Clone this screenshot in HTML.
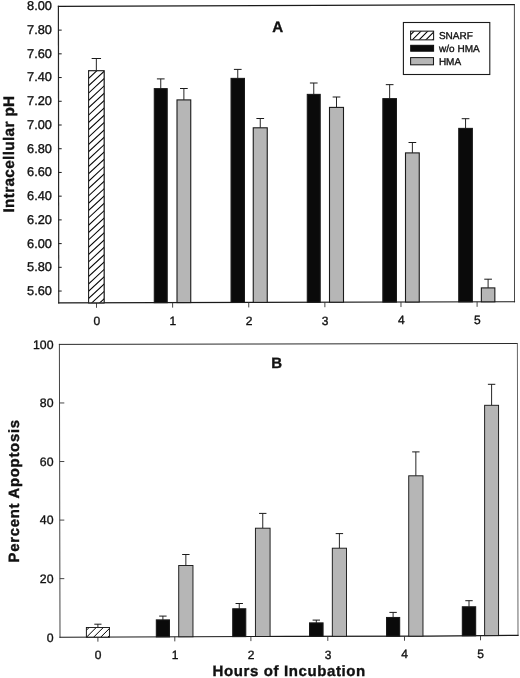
<!DOCTYPE html><html><head><meta charset="utf-8"><title>Figure</title><style>html,body{margin:0;padding:0;background:#fff}svg{display:block}text{font-family:"Liberation Sans", Arial, sans-serif;fill:#111;stroke:#111;stroke-width:0.35px;text-rendering:geometricPrecision}</style></head><body>
<svg width="520" height="678" viewBox="0 0 520 678">
<rect width="520" height="678" fill="#fff"/>
<line x1="58.4" y1="6.4" x2="58.75" y2="302.9" stroke="#262626" stroke-width="1.2" stroke-linecap="square"/>
<line x1="58.4" y1="6.4" x2="514.4" y2="4.6" stroke="#1a1a1a" stroke-width="1.1" stroke-linecap="square"/>
<line x1="514.4" y1="4.6" x2="514.5" y2="301.75" stroke="#333" stroke-width="0.9" stroke-linecap="square"/>
<line x1="58.75" y1="302.9" x2="514.5" y2="301.75" stroke="#1a1a1a" stroke-width="1.15" stroke-linecap="square"/>
<text x="52.0" y="10.30" font-size="12.8" text-anchor="end" stroke-width="0.3">8.00</text>
<line x1="58.4" y1="30.12" x2="61.699999999999996" y2="30.12" stroke="#1a1a1a" stroke-width="1"/>
<text x="52.0" y="34.02" font-size="12.8" text-anchor="end" stroke-width="0.3">7.80</text>
<line x1="58.4" y1="53.84" x2="61.699999999999996" y2="53.84" stroke="#1a1a1a" stroke-width="1"/>
<text x="52.0" y="57.74" font-size="12.8" text-anchor="end" stroke-width="0.3">7.60</text>
<line x1="58.4" y1="77.56" x2="61.699999999999996" y2="77.56" stroke="#1a1a1a" stroke-width="1"/>
<text x="52.0" y="81.46" font-size="12.8" text-anchor="end" stroke-width="0.3">7.40</text>
<line x1="58.4" y1="101.28" x2="61.699999999999996" y2="101.28" stroke="#1a1a1a" stroke-width="1"/>
<text x="52.0" y="105.18" font-size="12.8" text-anchor="end" stroke-width="0.3">7.20</text>
<line x1="58.4" y1="125.00" x2="61.699999999999996" y2="125.00" stroke="#1a1a1a" stroke-width="1"/>
<text x="52.0" y="128.90" font-size="12.8" text-anchor="end" stroke-width="0.3">7.00</text>
<line x1="58.4" y1="148.72" x2="61.699999999999996" y2="148.72" stroke="#1a1a1a" stroke-width="1"/>
<text x="52.0" y="152.62" font-size="12.8" text-anchor="end" stroke-width="0.3">6.80</text>
<line x1="58.4" y1="172.44" x2="61.699999999999996" y2="172.44" stroke="#1a1a1a" stroke-width="1"/>
<text x="52.0" y="176.34" font-size="12.8" text-anchor="end" stroke-width="0.3">6.60</text>
<line x1="58.4" y1="196.16" x2="61.699999999999996" y2="196.16" stroke="#1a1a1a" stroke-width="1"/>
<text x="52.0" y="200.06" font-size="12.8" text-anchor="end" stroke-width="0.3">6.40</text>
<line x1="58.4" y1="219.88" x2="61.699999999999996" y2="219.88" stroke="#1a1a1a" stroke-width="1"/>
<text x="52.0" y="223.78" font-size="12.8" text-anchor="end" stroke-width="0.3">6.20</text>
<line x1="58.4" y1="243.60" x2="61.699999999999996" y2="243.60" stroke="#1a1a1a" stroke-width="1"/>
<text x="52.0" y="247.50" font-size="12.8" text-anchor="end" stroke-width="0.3">6.00</text>
<line x1="58.4" y1="267.32" x2="61.699999999999996" y2="267.32" stroke="#1a1a1a" stroke-width="1"/>
<text x="52.0" y="271.22" font-size="12.8" text-anchor="end" stroke-width="0.3">5.80</text>
<line x1="58.4" y1="291.04" x2="61.699999999999996" y2="291.04" stroke="#1a1a1a" stroke-width="1"/>
<text x="52.0" y="294.94" font-size="12.8" text-anchor="end" stroke-width="0.3">5.60</text>
<line x1="96.5" y1="302.80" x2="96.5" y2="307.80" stroke="#333" stroke-width="0.9"/>
<text x="96.8" y="325.20" font-size="12" text-anchor="middle" stroke-width="0.08">0</text>
<line x1="172.62" y1="302.61" x2="172.62" y2="307.61" stroke="#333" stroke-width="0.9"/>
<text x="172.92000000000002" y="325.01" font-size="12" text-anchor="middle" stroke-width="0.08">1</text>
<line x1="248.74" y1="302.42" x2="248.74" y2="307.42" stroke="#333" stroke-width="0.9"/>
<text x="249.04000000000002" y="324.82" font-size="12" text-anchor="middle" stroke-width="0.08">2</text>
<line x1="324.86" y1="302.23" x2="324.86" y2="307.23" stroke="#333" stroke-width="0.9"/>
<text x="325.16" y="324.63" font-size="12" text-anchor="middle" stroke-width="0.08">3</text>
<line x1="400.98" y1="302.04" x2="400.98" y2="307.04" stroke="#333" stroke-width="0.9"/>
<text x="401.28000000000003" y="324.44" font-size="12" text-anchor="middle" stroke-width="0.08">4</text>
<line x1="477.1" y1="301.84" x2="477.1" y2="306.84" stroke="#333" stroke-width="0.9"/>
<text x="477.40000000000003" y="324.24" font-size="12" text-anchor="middle" stroke-width="0.08">5</text>
<line x1="96.35" y1="58.50" x2="96.35" y2="70.80" stroke="#1a1a1a" stroke-width="0.95"/>
<line x1="91.65" y1="58.50" x2="101.05" y2="58.50" stroke="#1a1a1a" stroke-width="1.0"/>
<rect x="88.65" y="70.80" width="15.40" height="232.00" fill="#fff" stroke="#1a1a1a" stroke-width="1.1"/>
<clipPath id="hc1"><rect x="88.65" y="70.80" width="15.40" height="232.00"/></clipPath>
<rect x="88.65" y="70.80" width="15.40" height="232.00" fill="#fff"/>
<g clip-path="url(#hc1)" stroke="#000" stroke-width="1.05">
<line x1="86.15" y1="43.97" x2="108.15" y2="23.51"/>
<line x1="86.15" y1="51.31" x2="108.15" y2="30.85"/>
<line x1="86.15" y1="58.65" x2="108.15" y2="38.19"/>
<line x1="86.15" y1="65.99" x2="108.15" y2="45.53"/>
<line x1="86.15" y1="73.33" x2="108.15" y2="52.87"/>
<line x1="86.15" y1="80.66" x2="108.15" y2="60.20"/>
<line x1="86.15" y1="88.00" x2="108.15" y2="67.54"/>
<line x1="86.15" y1="95.34" x2="108.15" y2="74.88"/>
<line x1="86.15" y1="102.68" x2="108.15" y2="82.22"/>
<line x1="86.15" y1="110.02" x2="108.15" y2="89.56"/>
<line x1="86.15" y1="117.35" x2="108.15" y2="96.89"/>
<line x1="86.15" y1="124.69" x2="108.15" y2="104.23"/>
<line x1="86.15" y1="132.03" x2="108.15" y2="111.57"/>
<line x1="86.15" y1="139.37" x2="108.15" y2="118.91"/>
<line x1="86.15" y1="146.71" x2="108.15" y2="126.25"/>
<line x1="86.15" y1="154.04" x2="108.15" y2="133.58"/>
<line x1="86.15" y1="161.38" x2="108.15" y2="140.92"/>
<line x1="86.15" y1="168.72" x2="108.15" y2="148.26"/>
<line x1="86.15" y1="176.06" x2="108.15" y2="155.60"/>
<line x1="86.15" y1="183.40" x2="108.15" y2="162.94"/>
<line x1="86.15" y1="190.73" x2="108.15" y2="170.27"/>
<line x1="86.15" y1="198.07" x2="108.15" y2="177.61"/>
<line x1="86.15" y1="205.41" x2="108.15" y2="184.95"/>
<line x1="86.15" y1="212.75" x2="108.15" y2="192.29"/>
<line x1="86.15" y1="220.09" x2="108.15" y2="199.63"/>
<line x1="86.15" y1="227.42" x2="108.15" y2="206.96"/>
<line x1="86.15" y1="234.76" x2="108.15" y2="214.30"/>
<line x1="86.15" y1="242.10" x2="108.15" y2="221.64"/>
<line x1="86.15" y1="249.44" x2="108.15" y2="228.98"/>
<line x1="86.15" y1="256.78" x2="108.15" y2="236.32"/>
<line x1="86.15" y1="264.11" x2="108.15" y2="243.65"/>
<line x1="86.15" y1="271.45" x2="108.15" y2="250.99"/>
<line x1="86.15" y1="278.79" x2="108.15" y2="258.33"/>
<line x1="86.15" y1="286.13" x2="108.15" y2="265.67"/>
<line x1="86.15" y1="293.47" x2="108.15" y2="273.01"/>
<line x1="86.15" y1="300.80" x2="108.15" y2="280.34"/>
<line x1="86.15" y1="308.14" x2="108.15" y2="287.68"/>
<line x1="86.15" y1="315.48" x2="108.15" y2="295.02"/>
</g>
<rect x="88.65" y="70.80" width="15.40" height="232.00" fill="none" stroke="#1a1a1a" stroke-width="0.95"/>
<line x1="160.75" y1="78.90" x2="160.75" y2="88.65" stroke="#1a1a1a" stroke-width="0.95"/>
<line x1="156.90" y1="78.90" x2="164.60" y2="78.90" stroke="#1a1a1a" stroke-width="1.0"/>
<rect x="154.30" y="88.65" width="12.90" height="213.99" fill="#0a0a0a" stroke="#1a1a1a" stroke-width="1.1"/>
<line x1="183.88" y1="88.50" x2="183.88" y2="99.90" stroke="#1a1a1a" stroke-width="0.95"/>
<line x1="180.03" y1="88.50" x2="187.72" y2="88.50" stroke="#1a1a1a" stroke-width="1.0"/>
<rect x="177.00" y="99.90" width="13.75" height="202.68" fill="#b6b6b6" stroke="#1a1a1a" stroke-width="1.1"/>
<line x1="237.75" y1="69.40" x2="237.75" y2="78.40" stroke="#1a1a1a" stroke-width="0.95"/>
<line x1="233.90" y1="69.40" x2="241.60" y2="69.40" stroke="#1a1a1a" stroke-width="1.0"/>
<rect x="231.05" y="78.40" width="13.40" height="224.05" fill="#0a0a0a" stroke="#1a1a1a" stroke-width="1.1"/>
<line x1="260.25" y1="118.50" x2="260.25" y2="127.80" stroke="#1a1a1a" stroke-width="0.95"/>
<line x1="256.40" y1="118.50" x2="264.10" y2="118.50" stroke="#1a1a1a" stroke-width="1.0"/>
<rect x="253.25" y="127.80" width="14.00" height="174.59" fill="#b6b6b6" stroke="#1a1a1a" stroke-width="1.1"/>
<line x1="313.75" y1="83.00" x2="313.75" y2="94.40" stroke="#1a1a1a" stroke-width="0.95"/>
<line x1="309.90" y1="83.00" x2="317.60" y2="83.00" stroke="#1a1a1a" stroke-width="1.0"/>
<rect x="307.30" y="94.40" width="12.90" height="207.86" fill="#0a0a0a" stroke="#1a1a1a" stroke-width="1.1"/>
<line x1="336.50" y1="97.00" x2="336.50" y2="107.40" stroke="#1a1a1a" stroke-width="0.95"/>
<line x1="332.65" y1="97.00" x2="340.35" y2="97.00" stroke="#1a1a1a" stroke-width="1.0"/>
<rect x="329.50" y="107.40" width="14.00" height="194.80" fill="#b6b6b6" stroke="#1a1a1a" stroke-width="1.1"/>
<line x1="389.65" y1="84.65" x2="389.65" y2="98.65" stroke="#1a1a1a" stroke-width="0.95"/>
<line x1="385.80" y1="84.65" x2="393.50" y2="84.65" stroke="#1a1a1a" stroke-width="1.0"/>
<rect x="382.85" y="98.65" width="13.60" height="203.41" fill="#0a0a0a" stroke="#1a1a1a" stroke-width="1.1"/>
<line x1="412.38" y1="142.50" x2="412.38" y2="152.90" stroke="#1a1a1a" stroke-width="0.95"/>
<line x1="408.52" y1="142.50" x2="416.23" y2="142.50" stroke="#1a1a1a" stroke-width="1.0"/>
<rect x="405.50" y="152.90" width="13.75" height="149.11" fill="#b6b6b6" stroke="#1a1a1a" stroke-width="1.1"/>
<line x1="465.55" y1="118.70" x2="465.55" y2="128.40" stroke="#1a1a1a" stroke-width="0.95"/>
<line x1="461.70" y1="118.70" x2="469.40" y2="118.70" stroke="#1a1a1a" stroke-width="1.0"/>
<rect x="458.75" y="128.40" width="13.60" height="173.47" fill="#0a0a0a" stroke="#1a1a1a" stroke-width="1.1"/>
<line x1="488.10" y1="279.20" x2="488.10" y2="287.90" stroke="#1a1a1a" stroke-width="0.95"/>
<line x1="484.25" y1="279.20" x2="491.95" y2="279.20" stroke="#1a1a1a" stroke-width="1.0"/>
<rect x="481.35" y="287.90" width="13.50" height="13.92" fill="#b6b6b6" stroke="#1a1a1a" stroke-width="1.1"/>
<text x="277.75" y="31.7" font-size="15.1" font-weight="bold" stroke-width="0.12" text-anchor="middle">A</text>
<text transform="translate(13.9,212.6) rotate(-90)" font-size="15.3" font-weight="bold" stroke-width="0.12" letter-spacing="0.36">Intracellular pH</text>
<rect x="403.4" y="22.5" width="86.4" height="52" fill="#fff" stroke="#1a1a1a" stroke-width="1.1"/>
<clipPath id="hc2"><rect x="410.60" y="31.15" width="23.00" height="8.70"/></clipPath>
<rect x="410.60" y="31.15" width="23.00" height="8.70" fill="#fff"/>
<g clip-path="url(#hc2)" stroke="#000" stroke-width="1.05">
<line x1="388.90" y1="42.85" x2="405.90" y2="25.85"/>
<line x1="395.70" y1="42.85" x2="412.70" y2="25.85"/>
<line x1="402.50" y1="42.85" x2="419.50" y2="25.85"/>
<line x1="409.30" y1="42.85" x2="426.30" y2="25.85"/>
<line x1="416.10" y1="42.85" x2="433.10" y2="25.85"/>
<line x1="422.90" y1="42.85" x2="439.90" y2="25.85"/>
<line x1="429.70" y1="42.85" x2="446.70" y2="25.85"/>
<line x1="436.50" y1="42.85" x2="453.50" y2="25.85"/>
<line x1="443.30" y1="42.85" x2="460.30" y2="25.85"/>
</g>
<rect x="410.60" y="31.15" width="23.00" height="8.70" fill="none" stroke="#1a1a1a" stroke-width="1.05"/>
<rect x="410.7" y="45.3" width="22.9" height="5.9" fill="#0a0a0a" stroke="#0a0a0a" stroke-width="1"/>
<rect x="410.6" y="57.6" width="22.9" height="7.2" fill="#b6b6b6" stroke="#1a1a1a" stroke-width="1.05"/>
<text x="438.9" y="39.2" font-size="10.0" stroke-width="0.25">SNARF</text>
<text x="439.1" y="52.1" font-size="10.0" stroke-width="0.25">w/o HMA</text>
<text x="438.9" y="64.9" font-size="10.0" stroke-width="0.25">HMA</text>
<line x1="59.4" y1="344.4" x2="60.0" y2="637.2" stroke="#444" stroke-width="1.0" stroke-linecap="square"/>
<line x1="59.4" y1="344.4" x2="517.4" y2="343.5" stroke="#2a2a2a" stroke-width="1.0" stroke-linecap="square"/>
<line x1="517.4" y1="343.5" x2="518.0" y2="635.35" stroke="#666" stroke-width="1.0" stroke-linecap="square"/>
<polyline points="60.0,637.2 285,636.4 430,636.1 518.0,635.35" fill="none" stroke="#1a1a1a" stroke-width="1.15" stroke-linecap="square"/>
<text x="53.5" y="641.60" font-size="12.3" text-anchor="end" stroke-width="0.3">0</text>
<line x1="59.8" y1="578.64" x2="64.3" y2="578.64" stroke="#333" stroke-width="0.9"/>
<text x="53.5" y="583.04" font-size="12.3" text-anchor="end" stroke-width="0.3">20</text>
<line x1="59.8" y1="520.08" x2="64.3" y2="520.08" stroke="#333" stroke-width="0.9"/>
<text x="53.5" y="524.48" font-size="12.3" text-anchor="end" stroke-width="0.3">40</text>
<line x1="59.8" y1="461.52" x2="64.3" y2="461.52" stroke="#333" stroke-width="0.9"/>
<text x="53.5" y="465.92" font-size="12.3" text-anchor="end" stroke-width="0.3">60</text>
<line x1="59.8" y1="402.96" x2="64.3" y2="402.96" stroke="#333" stroke-width="0.9"/>
<text x="53.5" y="407.36" font-size="12.3" text-anchor="end" stroke-width="0.3">80</text>
<text x="53.5" y="348.80" font-size="12.3" text-anchor="end" stroke-width="0.3">100</text>
<line x1="97.9" y1="637.07" x2="97.9" y2="641.67" stroke="#333" stroke-width="0.9"/>
<text x="98.10000000000001" y="659.37" font-size="12" text-anchor="middle" stroke-width="0.08">0</text>
<line x1="174.8" y1="636.79" x2="174.8" y2="641.39" stroke="#333" stroke-width="0.9"/>
<text x="175.0" y="659.09" font-size="12" text-anchor="middle" stroke-width="0.08">1</text>
<line x1="250.9" y1="636.52" x2="250.9" y2="641.12" stroke="#333" stroke-width="0.9"/>
<text x="251.1" y="658.82" font-size="12" text-anchor="middle" stroke-width="0.08">2</text>
<line x1="327.8" y1="636.31" x2="327.8" y2="640.91" stroke="#333" stroke-width="0.9"/>
<text x="328.0" y="658.61" font-size="12" text-anchor="middle" stroke-width="0.08">3</text>
<line x1="404.5" y1="636.15" x2="404.5" y2="640.75" stroke="#333" stroke-width="0.9"/>
<text x="404.7" y="658.45" font-size="12" text-anchor="middle" stroke-width="0.08">4</text>
<line x1="480.5" y1="635.67" x2="480.5" y2="640.27" stroke="#333" stroke-width="0.9"/>
<text x="480.7" y="657.97" font-size="12" text-anchor="middle" stroke-width="0.08">5</text>
<line x1="97.90" y1="624.20" x2="97.90" y2="627.50" stroke="#1a1a1a" stroke-width="0.95"/>
<line x1="94.30" y1="624.20" x2="101.50" y2="624.20" stroke="#1a1a1a" stroke-width="1.0"/>
<rect x="86.40" y="627.50" width="23.00" height="9.56" fill="#fff" stroke="#1a1a1a" stroke-width="0.9"/>
<clipPath id="hc3"><rect x="86.40" y="627.50" width="23.00" height="9.56"/></clipPath>
<rect x="86.40" y="627.50" width="23.00" height="9.56" fill="#fff"/>
<g clip-path="url(#hc3)" stroke="#000" stroke-width="1.0">
<line x1="62.90" y1="639.50" x2="79.90" y2="622.50"/>
<line x1="70.00" y1="639.50" x2="87.00" y2="622.50"/>
<line x1="77.10" y1="639.50" x2="94.10" y2="622.50"/>
<line x1="84.20" y1="639.50" x2="101.20" y2="622.50"/>
<line x1="91.30" y1="639.50" x2="108.30" y2="622.50"/>
<line x1="98.40" y1="639.50" x2="115.40" y2="622.50"/>
<line x1="105.50" y1="639.50" x2="122.50" y2="622.50"/>
<line x1="112.60" y1="639.50" x2="129.60" y2="622.50"/>
<line x1="119.70" y1="639.50" x2="136.70" y2="622.50"/>
</g>
<rect x="86.40" y="627.50" width="23.00" height="9.56" fill="none" stroke="#1a1a1a" stroke-width="0.9"/>
<line x1="162.90" y1="616.10" x2="162.90" y2="619.90" stroke="#1a1a1a" stroke-width="0.95"/>
<line x1="159.20" y1="616.10" x2="166.60" y2="616.10" stroke="#1a1a1a" stroke-width="1.0"/>
<rect x="156.35" y="619.90" width="13.10" height="16.93" fill="#0a0a0a" stroke="#1a1a1a" stroke-width="1.1"/>
<line x1="185.85" y1="554.50" x2="185.85" y2="565.50" stroke="#1a1a1a" stroke-width="0.95"/>
<line x1="182.15" y1="554.50" x2="189.55" y2="554.50" stroke="#1a1a1a" stroke-width="1.0"/>
<rect x="178.72" y="565.50" width="14.25" height="71.25" fill="#b6b6b6" stroke="#1a1a1a" stroke-width="0.95"/>
<line x1="239.25" y1="603.50" x2="239.25" y2="608.80" stroke="#1a1a1a" stroke-width="0.95"/>
<line x1="235.55" y1="603.50" x2="242.95" y2="603.50" stroke="#1a1a1a" stroke-width="1.0"/>
<rect x="232.75" y="608.80" width="13.00" height="27.76" fill="#0a0a0a" stroke="#1a1a1a" stroke-width="1.1"/>
<line x1="262.75" y1="513.40" x2="262.75" y2="528.20" stroke="#1a1a1a" stroke-width="0.95"/>
<line x1="259.05" y1="513.40" x2="266.45" y2="513.40" stroke="#1a1a1a" stroke-width="1.0"/>
<rect x="255.43" y="528.20" width="14.65" height="108.28" fill="#b6b6b6" stroke="#1a1a1a" stroke-width="0.95"/>
<line x1="316.30" y1="620.10" x2="316.30" y2="622.90" stroke="#1a1a1a" stroke-width="0.95"/>
<line x1="312.60" y1="620.10" x2="320.00" y2="620.10" stroke="#1a1a1a" stroke-width="1.0"/>
<rect x="309.55" y="622.90" width="13.50" height="13.44" fill="#0a0a0a" stroke="#1a1a1a" stroke-width="1.1"/>
<line x1="339.40" y1="533.60" x2="339.40" y2="548.20" stroke="#1a1a1a" stroke-width="0.95"/>
<line x1="335.70" y1="533.60" x2="343.10" y2="533.60" stroke="#1a1a1a" stroke-width="1.0"/>
<rect x="332.32" y="548.20" width="14.15" height="88.09" fill="#b6b6b6" stroke="#1a1a1a" stroke-width="0.95"/>
<line x1="393.10" y1="612.40" x2="393.10" y2="617.50" stroke="#1a1a1a" stroke-width="0.95"/>
<line x1="389.40" y1="612.40" x2="396.80" y2="612.40" stroke="#1a1a1a" stroke-width="1.0"/>
<rect x="386.55" y="617.50" width="13.10" height="18.68" fill="#0a0a0a" stroke="#1a1a1a" stroke-width="1.1"/>
<line x1="415.85" y1="451.90" x2="415.85" y2="475.80" stroke="#1a1a1a" stroke-width="0.95"/>
<line x1="412.15" y1="451.90" x2="419.55" y2="451.90" stroke="#1a1a1a" stroke-width="1.0"/>
<rect x="408.73" y="475.80" width="14.25" height="160.33" fill="#b6b6b6" stroke="#1a1a1a" stroke-width="0.95"/>
<line x1="469.00" y1="600.70" x2="469.00" y2="606.80" stroke="#1a1a1a" stroke-width="0.95"/>
<line x1="465.30" y1="600.70" x2="472.70" y2="600.70" stroke="#1a1a1a" stroke-width="1.0"/>
<rect x="462.35" y="606.80" width="13.30" height="28.97" fill="#0a0a0a" stroke="#1a1a1a" stroke-width="1.1"/>
<line x1="491.60" y1="384.30" x2="491.60" y2="405.30" stroke="#1a1a1a" stroke-width="0.95"/>
<line x1="487.90" y1="384.30" x2="495.30" y2="384.30" stroke="#1a1a1a" stroke-width="1.0"/>
<rect x="484.62" y="405.30" width="13.95" height="230.28" fill="#b6b6b6" stroke="#1a1a1a" stroke-width="0.95"/>
<text x="271.3" y="367.85" font-size="15.0" font-weight="bold" stroke-width="0.12">B</text>
<text transform="translate(18.9,562.5) rotate(-90)" font-size="14.9" font-weight="bold" stroke-width="0.12" letter-spacing="0.72">Percent Apoptosis</text>
<text x="212.6" y="676.0" font-size="15.0" font-weight="bold" stroke-width="0.12" letter-spacing="0.61">Hours of Incubation</text>
</svg></body></html>
